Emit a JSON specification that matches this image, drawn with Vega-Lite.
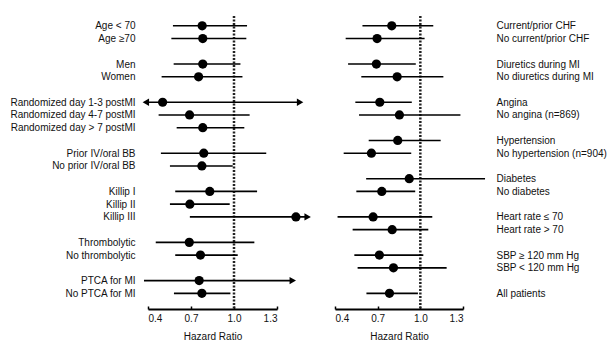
{
  "$schema": "https://vega.github.io/schema/vega-lite/v6.json",
  "padding": {"left": 9, "top": 14, "right": 5, "bottom": 5},
  "background": "white",
  "config": {
    "font": "Liberation Sans",
    "view": {"stroke": null},
    "axis": {"labelFont": "Liberation Sans", "titleFont": "Liberation Sans", "labelColor": "#111", "titleColor": "#111", "labelFontSize": 10, "titleFontSize": 10, "titleFontWeight": "normal"}
  },
  "datasets": {
    "left": [
      {"label": "Age < 70", "est": 0.778, "lo": 0.574, "hi": 1.091},
      {"label": "Age ≥70", "est": 0.782, "lo": 0.563, "hi": 1.086},
      {"label": "Men", "est": 0.782, "lo": 0.579, "hi": 1.045},
      {"label": "Women", "est": 0.753, "lo": 0.495, "hi": 1.059},
      {"label": "Randomized day 1-3 postMI", "est": 0.502, "lo": 0.385, "hi": 1.461},
      {"label": "Randomized day 4-7 postMI", "est": 0.690, "lo": 0.474, "hi": 1.109},
      {"label": "Randomized day > 7 postMI", "est": 0.782, "lo": 0.600, "hi": 1.072},
      {"label": "Prior IV/oral BB", "est": 0.789, "lo": 0.490, "hi": 1.225},
      {"label": "No prior IV/oral BB", "est": 0.776, "lo": 0.553, "hi": 0.991},
      {"label": "Killip I", "est": 0.831, "lo": 0.590, "hi": 1.161},
      {"label": "Killip II", "est": 0.692, "lo": 0.553, "hi": 0.970},
      {"label": "Killip III", "est": 1.432, "lo": 0.692, "hi": 1.514},
      {"label": "Thrombolytic", "est": 0.688, "lo": 0.454, "hi": 1.142},
      {"label": "No thrombolytic", "est": 0.766, "lo": 0.590, "hi": 1.026},
      {"label": "PTCA for MI", "est": 0.757, "lo": 0.372, "hi": 1.410},
      {"label": "No PTCA for MI", "est": 0.776, "lo": 0.581, "hi": 0.975}
    ],
    "leftArrows": [
      {"label": "Randomized day 1-3 postMI", "x": 0.385, "dir": "left"},
      {"label": "Randomized day 1-3 postMI", "x": 1.461, "dir": "right"},
      {"label": "Killip III", "x": 1.514, "dir": "right"},
      {"label": "PTCA for MI", "x": 1.410, "dir": "right"}
    ],
    "right": [
      {"label": "Current/prior CHF", "est": 0.799, "lo": 0.593, "hi": 1.091},
      {"label": "No current/prior CHF", "est": 0.696, "lo": 0.475, "hi": 1.030},
      {"label": "Diuretics during MI", "est": 0.691, "lo": 0.492, "hi": 0.968},
      {"label": "No diuretics during MI", "est": 0.837, "lo": 0.585, "hi": 1.162},
      {"label": "Angina", "est": 0.715, "lo": 0.543, "hi": 0.940},
      {"label": "No angina (n=869)", "est": 0.853, "lo": 0.569, "hi": 1.282},
      {"label": "Hypertension", "est": 0.841, "lo": 0.637, "hi": 1.143},
      {"label": "No hypertension (n=904)", "est": 0.656, "lo": 0.461, "hi": 0.936},
      {"label": "Diabetes", "est": 0.922, "lo": 0.619, "hi": 1.455},
      {"label": "No diabetes", "est": 0.729, "lo": 0.550, "hi": 0.964},
      {"label": "Heart rate ≤ 70", "est": 0.668, "lo": 0.418, "hi": 1.084},
      {"label": "Heart rate > 70", "est": 0.802, "lo": 0.524, "hi": 1.056},
      {"label": "SBP ≥ 120 mm Hg", "est": 0.712, "lo": 0.536, "hi": 1.021},
      {"label": "SBP < 120 mm Hg", "est": 0.811, "lo": 0.559, "hi": 1.185},
      {"label": "All patients", "est": 0.783, "lo": 0.621, "hi": 0.983}
    ]
  },
  "bounds": "flush",
  "spacing": 58,
  "hconcat": [
    {
      "width": 129,
      "height": 293,
      "layer": [
        {
          "data": {"values": [{"ref": 1}]},
          "mark": {"type": "rule", "color": "#222", "strokeWidth": 2.5, "strokeDash": [2, 1.5]},
          "encoding": {"x": {"field": "ref", "type": "quantitative"}}
        },
        {
          "data": {"name": "left"},
          "mark": {"type": "rule", "color": "black", "strokeWidth": 1.6},
          "encoding": {
            "y": {"field": "label", "type": "ordinal"},
            "x": {"field": "lo", "type": "quantitative"},
            "x2": {"field": "hi"}
          }
        },
        {
          "data": {"name": "leftArrows"},
          "mark": {"type": "point", "filled": true, "color": "black", "size": 55, "opacity": 1},
          "encoding": {
            "y": {"field": "label", "type": "ordinal"},
            "x": {"field": "x", "type": "quantitative"},
            "shape": {"field": "dir", "type": "nominal", "scale": {"domain": ["left", "right"], "range": ["triangle-left", "triangle-right"]}, "legend": null}
          }
        },
        {
          "data": {"name": "left"},
          "mark": {"type": "circle", "color": "black", "size": 85, "opacity": 1},
          "encoding": {
            "y": {"field": "label", "type": "ordinal"},
            "x": {"field": "est", "type": "quantitative"}
          }
        }
      ],
      "encoding": {
        "x": {
          "type": "quantitative",
          "scale": {"domain": [0.4, 1.3], "nice": false, "zero": false},
          "axis": {"values": [0.4, 0.7, 1.0, 1.3], "format": ".1f", "grid": false, "domainColor": "black", "domainWidth": 2, "tickColor": "black", "tickSize": -3, "tickWidth": 1.5, "labelPadding": 7, "title": "Hazard Ratio", "titlePadding": 8}
        },
        "y": {
          "type": "ordinal",
          "scale": {"type": "point", "padding": 1.136, "align": 0.385, "domain": ["Age < 70", "Age ≥70", " ", "Men", "Women", "  ", "Randomized day 1-3 postMI", "Randomized day 4-7 postMI", "Randomized day > 7 postMI", "   ", "Prior IV/oral BB", "No prior IV/oral BB", "    ", "Killip I", "Killip II", "Killip III", "     ", "Thrombolytic", "No thrombolytic", "      ", "PTCA for MI", "No PTCA for MI"]},
          "axis": {"title": null, "domain": false, "ticks": false, "grid": false, "labelPadding": 13, "labelBaseline": "middle"}
        }
      },
      "resolve": {"scale": {"shape": "independent"}}
    },
    {
      "width": 128,
      "height": 293,
      "layer": [
        {
          "data": {"values": [{"ref": 1}]},
          "mark": {"type": "rule", "color": "#222", "strokeWidth": 2.5, "strokeDash": [2, 1.5]},
          "encoding": {"x": {"field": "ref", "type": "quantitative"}}
        },
        {
          "data": {"name": "right"},
          "mark": {"type": "rule", "color": "black", "strokeWidth": 1.6},
          "encoding": {
            "y": {"field": "label", "type": "ordinal"},
            "x": {"field": "lo", "type": "quantitative"},
            "x2": {"field": "hi"}
          }
        },
        {
          "data": {"name": "right"},
          "mark": {"type": "circle", "color": "black", "size": 85, "opacity": 1},
          "encoding": {
            "y": {"field": "label", "type": "ordinal"},
            "x": {"field": "est", "type": "quantitative"}
          }
        }
      ],
      "encoding": {
        "x": {
          "type": "quantitative",
          "scale": {"domain": [0.4, 1.3], "nice": false, "zero": false},
          "axis": {"values": [0.4, 0.7, 1.0, 1.3], "format": ".1f", "grid": false, "domainColor": "black", "domainWidth": 2, "tickColor": "black", "tickSize": -3, "tickWidth": 1.5, "labelPadding": 7, "title": "Hazard Ratio", "titlePadding": 8}
        },
        "y": {
          "type": "ordinal",
          "scale": {"type": "point", "padding": 1.136, "align": 0.385, "domain": ["Current/prior CHF", "No current/prior CHF", " ", "Diuretics during MI", "No diuretics during MI", "  ", "Angina", "No angina (n=869)", "   ", "Hypertension", "No hypertension (n=904)", "    ", "Diabetes", "No diabetes", "     ", "Heart rate ≤ 70", "Heart rate > 70", "      ", "SBP ≥ 120 mm Hg", "SBP < 120 mm Hg", "       ", "All patients"]},
          "axis": {"title": null, "orient": "right", "domain": false, "ticks": false, "grid": false, "labelPadding": 33, "labelBaseline": "middle"}
        }
      }
    }
  ]
}
